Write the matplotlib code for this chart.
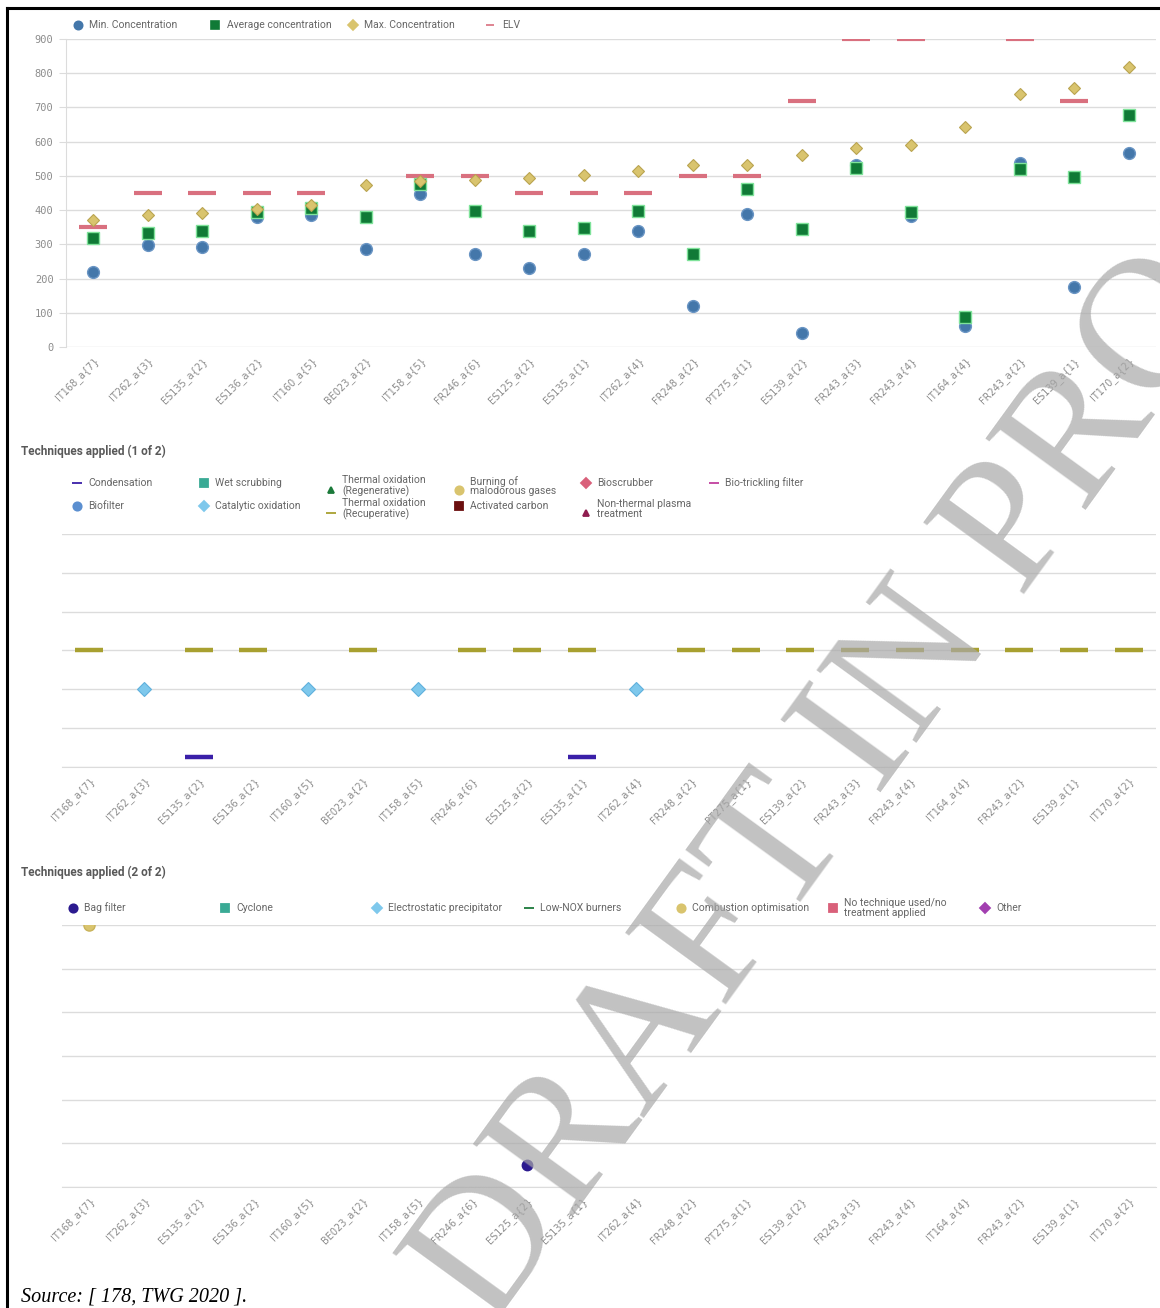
import matplotlib
matplotlib.use("Agg")
import matplotlib.pyplot as plt
import numpy as np

# ---- data ----
categories = ["IT168_a{7}", "IT262_a{3}", "ES135_a{2}", "ES136_a{2}", "IT160_a{5}",
              "BE023_a{2}", "IT158_a{5}", "FR246_a{6}", "ES125_a{2}", "ES135_a{1}",
              "IT262_a{4}", "FR248_a{2}", "PT275_a{1}", "ES139_a{2}", "FR243_a{3}",
              "FR243_a{4}", "IT164_a{4}", "FR243_a{2}", "ES139_a{1}", "IT170_a{2}"]
min_conc = [219, 298, 293, 381, 386, 286, 447, 273, 232, 271,
            340, 120, 389, 42, 533, 382, 61, 537, 176, 568]
avg_conc = [319, 332, 338, 394, 406, 381, 475, 396, 340, 347,
            398, 271, 461, 345, 523, 394, 88, 519, 497, 678]
max_conc = [372, 387, 392, 402, 415, 474, 486, 488, 494, 503,
            513, 531, 531, 561, 582, 590, 643, 738, 756, 817]
elv = [350, 450, 450, 450, 450, np.nan, 500, 500, 450, 450,
       450, 500, 500, 720, 900, 900, np.nan, 900, 720, np.nan]

# techniques (1 of 2): category index -> level on the technique axis
recup_idx = [0, 2, 3, 5, 7, 8, 9, 11, 12, 13, 14, 15, 16, 17, 18, 19]
recup_lvl = [3] * len(recup_idx)
catal_idx = [1, 4, 6, 10]
catal_lvl = [2] * len(catal_idx)
cond_idx = [2, 9]
cond_lvl = [0.25] * len(cond_idx)

# techniques (2 of 2)
bag_idx = [8]
bag_lvl = [0.5]
comb_idx = [0]
comb_lvl = [6]

legend1 = [("Condensation", "_", "#3a1fa8"), ("Wet scrubbing", "s", "#3aaa95"),
           ("Thermal oxidation\n(Regenerative)", "^", "#1b7a3a"),
           ("Burning of\nmalodorous gases", "o", "#d9c46e"),
           ("Bioscrubber", "D", "#d9607a"), ("Bio-trickling filter", "_", "#c2409e"),
           ("Biofilter", "o", "#5b8fd0"), ("Catalytic oxidation", "D", "#7ec8ec"),
           ("Thermal oxidation\n(Recuperative)", "_", "#a8a030"),
           ("Activated carbon", "s", "#6b0f0f"),
           ("Non-thermal plasma\ntreatment", "^", "#8f1d4f")]
legend2 = [("Bag filter", "o", "#2b1a8f"), ("Cyclone", "s", "#3aaa95"),
           ("Electrostatic precipitator", "D", "#7ec8ec"), ("Low-NOX burners", "_", "#1b7a3a"),
           ("Combustion optimisation", "o", "#d9c46e"),
           ("No technique used/no\ntreatment applied", "s", "#d9607a"),
           ("Other", "D", "#a23fb0")]

W, H = 1160, 1308
fig = plt.figure(figsize=(W / 100, H / 100), dpi=100)
x = np.arange(len(categories))
grid_c = "#dcdcdc"
lab_c = "#8c8c8c"
txt_c = "#666666"


def px_axes(l, t, r, b):
    return fig.add_axes([l / W, 1 - b / H, (r - l) / W, (b - t) / H])


def style_x(ax):
    ax.set_xlim(-0.5, len(categories) - 0.5)
    ax.set_xticks(x)
    ax.set_xticklabels(categories, rotation=45, ha="right", rotation_mode="anchor",
                       fontsize=7, color=lab_c, family="DejaVu Sans")
    ax.tick_params(axis="x", length=0, pad=6)


# overlay for frame, legends, titles
ov = fig.add_axes([0, 0, 1, 1], zorder=-1)
ov.set_xlim(0, W)
ov.set_ylim(H, 0)
ov.axis("off")
ov.plot([7, 7], [8, H], color="black", lw=2.2)
ov.plot([7, W], [8, 8], color="black", lw=2.2)

# ---- top chart ----
ax = px_axes(66, 39, 1156, 347)
ax.set_ylim(0, 900)
ax.set_yticks(range(0, 901, 100))
ax.set_yticklabels([str(v) for v in range(0, 901, 100)], family="DejaVu Sans Mono",
                   fontsize=7.5, color=lab_c)
ax.tick_params(axis="y", length=5, color=grid_c, pad=4)
ax.grid(axis="y", color=grid_c, lw=1)
ax.set_axisbelow(True)
for s in ["top", "right", "bottom"]:
    ax.spines[s].set_visible(False)
ax.spines["left"].set_color(grid_c)
style_x(ax)
ax.plot(x, elv, ls="none", marker="_", ms=20, mew=3, color="#d9707f", zorder=3)
ax.plot(x, min_conc, ls="none", marker="o", ms=8.5, color="#4477aa", mec="#6a95c4", zorder=4)
ax.plot(x, avg_conc, ls="none", marker="s", ms=8.5, color="#107a36", mec="#7fe39a",
        mew=1, zorder=5)
ax.plot(x, max_conc, ls="none", marker="D", ms=6.5, color="#d9c46e", mec="#b9a450",
        mew=0.8, zorder=6)

top_leg = [("Min. Concentration", "o", "#4477aa", 78, 89),
           ("Average concentration", "s", "#107a36", 215, 227),
           ("Max. Concentration", "D", "#d9c46e", 353, 364),
           ("ELV", "_", "#d9707f", 490, 502)]
for lab, mk, c, mx, tx in top_leg:
    ov.plot([mx], [25], marker=mk, ms=6 if mk != "D" else 5, mew=1.2, color=c, ls="none")
    ov.text(tx, 25, lab, va="center", ha="left", fontsize=7.5, color=txt_c, family="Roboto")

# ---- middle chart ----
ax2 = px_axes(62, 534, 1156, 767)
ax2.set_ylim(0, 6)
ax2.set_yticks(range(0, 7))
ax2.set_yticklabels([])
ax2.tick_params(axis="y", length=0)
ax2.grid(axis="y", color=grid_c, lw=1)
ax2.set_axisbelow(True)
for s in ["top", "right", "left"]:
    ax2.spines[s].set_visible(False)
ax2.spines["bottom"].set_color(grid_c)
style_x(ax2)
ax2.plot(recup_idx, recup_lvl, ls="none", marker="_", ms=20, mew=3.2, color="#a8a030", zorder=3)
ax2.plot(catal_idx, catal_lvl, ls="none", marker="D", ms=7, color="#7ec8ec", mec="#5fb0dc",
         mew=0.8, zorder=3)
ax2.plot(cond_idx, cond_lvl, ls="none", marker="_", ms=20, mew=3.2, color="#3a1fa8", zorder=3)

ov.text(21, 451, "Techniques applied (1 of 2)", fontsize=8.5, fontweight="bold",
        color="#595959", va="center", family="Roboto")
cols1 = [77, 204, 331, 459, 586, 714]
rows1 = [483, 506]
for i, (lab, mk, c) in enumerate(legend1):
    col = i % 6
    row = i // 6
    mx = cols1[col]
    ty = rows1[row] + (3 if "\n" in lab else 0)
    my = ty + (4 if "\n" in lab else 0)
    ms = 6 if mk in "os" else (5 if mk in "D^" else 7)
    ov.plot([mx], [my], marker=mk, ms=ms, mew=1.3, color=c, ls="none")
    ov.text(mx + 11, ty, lab, va="center", ha="left", fontsize=7.5, color=txt_c,
            family="Roboto", linespacing=0.95)

# ---- bottom chart ----
ax3 = px_axes(62, 925, 1156, 1187)
ax3.set_ylim(0, 6)
ax3.set_yticks(range(0, 7))
ax3.set_yticklabels([])
ax3.tick_params(axis="y", length=0)
ax3.grid(axis="y", color=grid_c, lw=1)
ax3.set_axisbelow(True)
for s in ["top", "right", "left"]:
    ax3.spines[s].set_visible(False)
ax3.spines["bottom"].set_color(grid_c)
style_x(ax3)
ax3.plot(comb_idx, comb_lvl, ls="none", marker="o", ms=8, color="#d9c46e", mec="#c9b35a", zorder=3)
ax3.plot(bag_idx, bag_lvl, ls="none", marker="o", ms=7.5, color="#2b1a8f", zorder=3)

ov.text(21, 872, "Techniques applied (2 of 2)", fontsize=8.5, fontweight="bold",
        color="#595959", va="center", family="Roboto")
cols2 = [73, 225, 377, 529, 681, 833, 985]
for i, (lab, mk, c) in enumerate(legend2):
    mx = cols2[i]
    ms = 6 if mk in "os" else (5 if mk == "D" else 7)
    ov.plot([mx], [908], marker=mk, ms=ms, mew=1.3, color=c, ls="none")
    ov.text(mx + 11, 908, lab, va="center", ha="left", fontsize=7.5, color=txt_c,
            family="Roboto", linespacing=0.95)

ov.text(21, 1297, "Source: [ 178, TWG 2020 ].", fontsize=14.5, style="italic",
        family="Liberation Serif", va="center", ha="left", color="black")

# watermark
fig.text(490 / W, 1 - 1330 / H, "DRAFT IN PROGRESS", rotation=54, rotation_mode="anchor",
         ha="left", va="baseline", fontsize=135, family="Liberation Serif",
         color="#a8a8a8", alpha=0.7, zorder=10)

fig.savefig("out.png", dpi=100)
